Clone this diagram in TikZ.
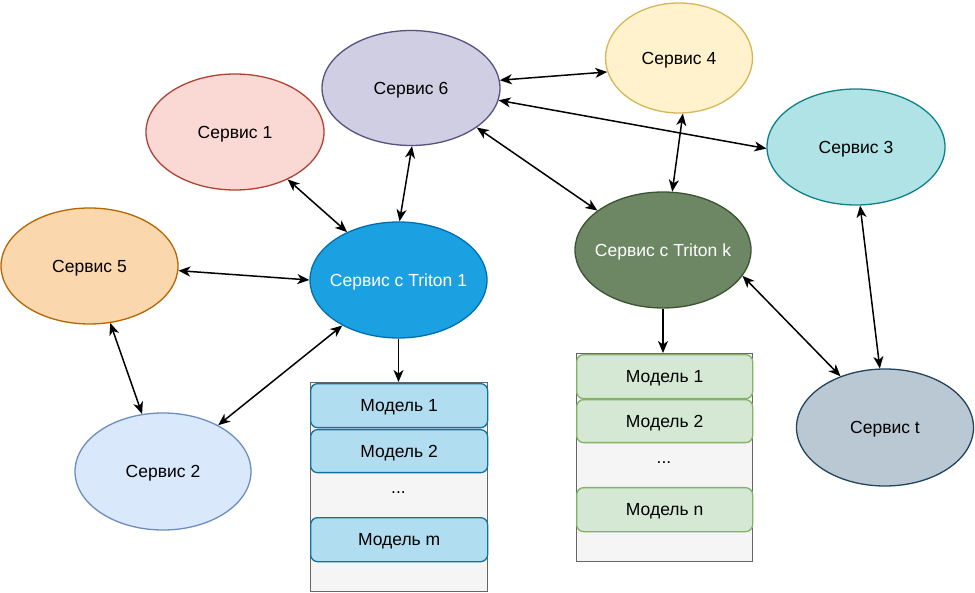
\documentclass[tikz,border=0pt]{standalone}
\usepackage{fontspec}
\setmainfont{Liberation Sans}
\usetikzlibrary{shapes.geometric,arrows.meta}
\definecolor{f6}{HTML}{D0CEE2}\definecolor{d6}{HTML}{56517E}
\definecolor{f4}{HTML}{FFF2CC}\definecolor{d4}{HTML}{D6B656}
\definecolor{f1}{HTML}{FAD9D5}\definecolor{d1}{HTML}{AE4132}
\definecolor{f3}{HTML}{B0E3E6}\definecolor{d3}{HTML}{0E8088}
\definecolor{f5}{HTML}{FAD7AC}\definecolor{d5}{HTML}{B46504}
\definecolor{ft1}{HTML}{1BA1E2}\definecolor{dt1}{HTML}{006EAF}
\definecolor{ftk}{HTML}{6D8764}\definecolor{dtk}{HTML}{3A5431}
\definecolor{f2}{HTML}{DAE8FC}\definecolor{d2}{HTML}{6C8EBF}
\definecolor{fst}{HTML}{BAC8D3}\definecolor{dst}{HTML}{23445D}
\definecolor{fcont}{HTML}{F5F5F5}\definecolor{dcont}{HTML}{666666}
\definecolor{fmb}{HTML}{B1DDF0}\definecolor{dmb}{HTML}{10739E}
\definecolor{fmg}{HTML}{D5E8D4}\definecolor{dmg}{HTML}{82B366}
\tikzset{
  svc/.style={ellipse, draw, line width=1.3pt, inner ysep=0pt, inner xsep=-35pt, text depth=0pt, font=\fontsize{17.5}{20}\selectfont},
  cont/.style={rectangle, draw=dcont, fill=fcont, line width=1.3pt, inner sep=0pt, anchor=north west},
  mdl/.style={rectangle, rounded corners=7pt, draw, line width=1.3pt, inner sep=0pt, text depth=0pt, minimum height=44pt, anchor=north west, font=\fontsize{17.5}{20}\selectfont},
  dots/.style={inner sep=0pt, font=\fontsize{17.5}{20}\selectfont},
  link/.style={line width=1.5pt, {Stealth[length=12pt,width=10pt,inset=3.5pt]}-{Stealth[length=12pt,width=10pt,inset=3.5pt]}},
  feed/.style={line width=1.5pt, -{Stealth[length=12pt,width=10pt,inset=3.5pt]}}
}
\begin{document}
\begin{tikzpicture}[x=1pt,y=-1pt]
\useasboundingbox (0,0) rectangle (975,593);
% services
\node[svc, fill=f6, draw=d6, minimum width=178pt, minimum height=115pt] (s6) at (411,88) {Сервис 6};
\node[svc, fill=f4, draw=d4, minimum width=147pt, minimum height=110pt] (s4) at (679,58) {Сервис 4};
\node[svc, fill=f1, draw=d1, minimum width=178pt, minimum height=116pt] (s1) at (235,132) {Сервис 1};
\node[svc, fill=f3, draw=d3, minimum width=178pt, minimum height=116pt] (s3) at (856,147) {Сервис 3};
\node[svc, fill=f5, draw=d5, minimum width=177pt, minimum height=116pt] (s5) at (89.5,266) {Сервис 5};
\node[svc, fill=ft1, draw=dt1, text=white, minimum width=177pt, minimum height=116pt] (t1) at (398.5,280) {Сервис с Triton 1};
\node[svc, fill=ftk, draw=dtk, text=white, minimum width=176pt, minimum height=116pt] (tk) at (663,250) {Сервис с Triton k};
\node[svc, fill=f2, draw=d2, minimum width=176pt, minimum height=117pt] (s2) at (163,471.5) {Сервис 2};
\node[svc, fill=fst, draw=dst, minimum width=177pt, minimum height=117pt] (st) at (885,427.5) {Сервис t};
% containers
\node[cont, minimum width=177pt, minimum height=209pt] (c1) at (310,382) {};
\node[mdl, fill=fmb, draw=dmb, minimum width=177pt] (m11) at (310,383) {Модель 1};
\node[mdl, fill=fmb, draw=dmb, minimum width=177pt, minimum height=43pt] (m12) at (310,429) {Модель 2};
\node[dots] (d1) at (398.5,492.5) {...};
\node[mdl, fill=fmb, draw=dmb, minimum width=177pt] (m1m) at (310,517) {Модель m};
\node[cont, minimum width=176pt, minimum height=208pt] (c2) at (576,353) {};
\node[mdl, fill=fmg, draw=dmg, minimum width=176pt] (m21) at (576,354) {Модель 1};
\node[mdl, fill=fmg, draw=dmg, minimum width=176pt, minimum height=43pt] (m22) at (576,399) {Модель 2};
\node[dots] (d2) at (664,463) {...};
\node[mdl, fill=fmg, draw=dmg, minimum width=176pt] (m2n) at (576,487) {Модель n};
% links
\draw[link] (s6.5.6) -- (s4.191);
\draw[link] (s6.-8.9) -- (s3.181.3);
\draw[link] (s6.-31.7) -- (tk.149);
\draw[link] (s6.-89) -- (t1.89);
\draw[link] (s4.-86) -- (tk.81);
\draw[link] (s1.-42.8) -- (t1.137);
\draw[link] (s5.-3.9) -- (t1.180.7);
\draw[link] (s5.-70.4) -- (s2.110.8);
\draw[link] (s2.40) -- (t1.219.5);
\draw[link] (s3.-86) -- (st.95);
\draw[link] (tk.-18) -- (st.131.4);
\draw[feed] (t1.south) -- (t1.south |- c1.north);
\draw[feed] (tk.south) -- (tk.south |- c2.north);
\end{tikzpicture}
\end{document}
